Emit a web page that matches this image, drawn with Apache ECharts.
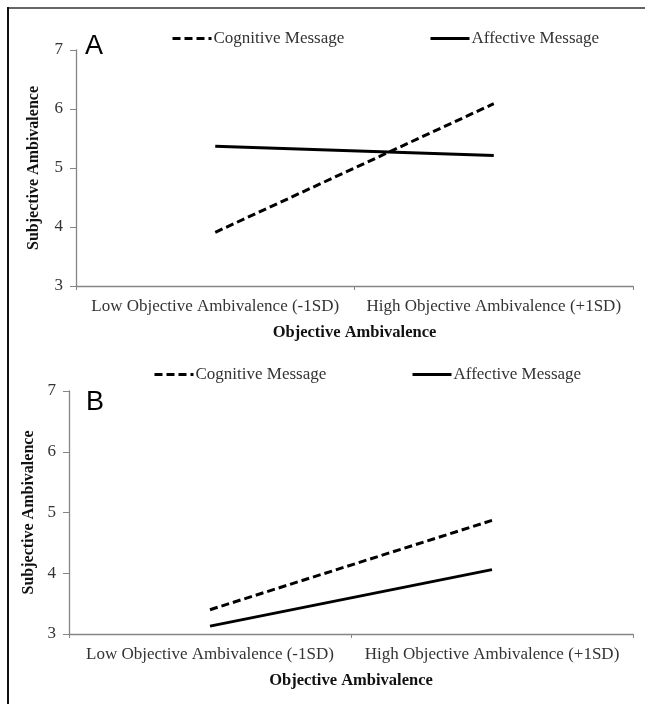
<!DOCTYPE html>
<html>
<head>
<meta charset="utf-8">
<script src="https://cdn.jsdelivr.net/npm/echarts@6/dist/echarts.min.js"></script>
<style>
html,body{margin:0;padding:0;background:#fff;}
#chart{width:645px;height:704px;}
</style>
</head>
<body>
<div id="chart"></div>
<script>
const categories = ['Low Objective Ambivalence (-1SD)', 'High Objective Ambivalence (+1SD)'];
const seriesNames = ['Cognitive Message', 'Affective Message'];
const panelACognitive = [3.91, 6.09];
const panelAAffective = [5.37, 5.21];
const panelBCognitive = [3.40, 4.87];
const panelBAffective = [3.13, 4.06];
const yTicks = [3, 7, 1]; // min, max, interval
const xTitle = 'Objective Ambivalence';
const yTitle = 'Subjective Ambivalence';
const panelLabels = ['A', 'B'];

const serif = '"Liberation Serif", "Times New Roman", serif';
const axisGray = '#858585';
const textCol = '#333333';

function xAxis(gridIndex) {
  return {
    type: 'category', gridIndex, data: categories, boundaryGap: true,
    axisLine: {show: true, lineStyle: {color: axisGray, width: 1.3}},
    axisTick: {show: true, length: 4, lineStyle: {color: axisGray}},
    axisLabel: {fontFamily: serif, fontSize: 17, color: textCol, margin: 12, interval: 0},
    name: xTitle, nameLocation: 'middle', nameGap: 38,
    nameTextStyle: {fontFamily: serif, fontSize: 16.5, fontWeight: 'bold', color: '#111'},
    splitLine: {show: false}
  };
}
function yAxis(gridIndex, gap) {
  return {
    type: 'value', gridIndex, min: yTicks[0], max: yTicks[1], interval: yTicks[2],
    axisLine: {show: true, lineStyle: {color: axisGray, width: 1.3}},
    axisTick: {show: true, length: 6, lineStyle: {color: axisGray}},
    axisLabel: {fontFamily: serif, fontSize: 17, color: textCol, margin: 13},
    name: yTitle, nameLocation: 'middle', nameGap: gap,
    nameTextStyle: {fontFamily: serif, fontSize: 16, fontWeight: 'bold', color: '#111'},
    splitLine: {show: false}
  };
}
function line(name, data, idx, dashed) {
  return {
    type: 'line', name, data, xAxisIndex: idx, yAxisIndex: idx,
    symbol: 'none', showSymbol: false, silent: true, animation: false,
    lineStyle: {color: '#000', width: 3, type: dashed ? [8, 4] : 'solid'},
    itemStyle: {color: '#000'}
  };
}
function legend(name, left, top) {
  return {
    data: [name], left, top, padding: 0, itemWidth: 39, itemHeight: 14, itemGap: 0,
    selectedMode: false,
    itemStyle: {opacity: 0},
    lineStyle: {width: 3},
    textStyle: {fontFamily: serif, fontSize: 17, color: textCol, padding: [0, 0, 0, -3]}
  };
}

const chart = echarts.init(document.getElementById('chart'), null, {renderer: 'canvas'});
chart.setOption({
  backgroundColor: '#fff',
  animation: false,
  grid: [
    {left: 76, right: 12, top: 50, height: 236},
    {left: 69, right: 12, top: 391, height: 243}
  ],
  xAxis: [xAxis(0), xAxis(1)],
  yAxis: [yAxis(0, 34), yAxis(1, 26)],
  legend: [
    legend(seriesNames[0], 171, 30),
    legend(seriesNames[1], 429, 30),
    legend(seriesNames[0], 153, 366),
    legend(seriesNames[1], 411, 366)
  ],
  series: [
    line(seriesNames[0], panelACognitive, 0, true),
    line(seriesNames[1], panelAAffective, 0, false),
    line(seriesNames[0], panelBCognitive, 1, true),
    line(seriesNames[1], panelBAffective, 1, false)
  ],
  graphic: [
    {type: 'rect', shape: {x: 8, y: 7, width: 645, height: 2}, style: {fill: '#666'}, silent: true},
    {type: 'rect', shape: {x: 7, y: 7, width: 2, height: 704}, style: {fill: '#111'}, silent: true},
    {type: 'text', left: 85, top: 33, style: {text: panelLabels[0], fontFamily: '"Liberation Sans", Arial, sans-serif', fontSize: 27, fill: '#000'}},
    {type: 'text', left: 86, top: 389, style: {text: panelLabels[1], fontFamily: '"Liberation Sans", Arial, sans-serif', fontSize: 27, fill: '#000'}}
  ]
});
</script>
</body>
</html>
